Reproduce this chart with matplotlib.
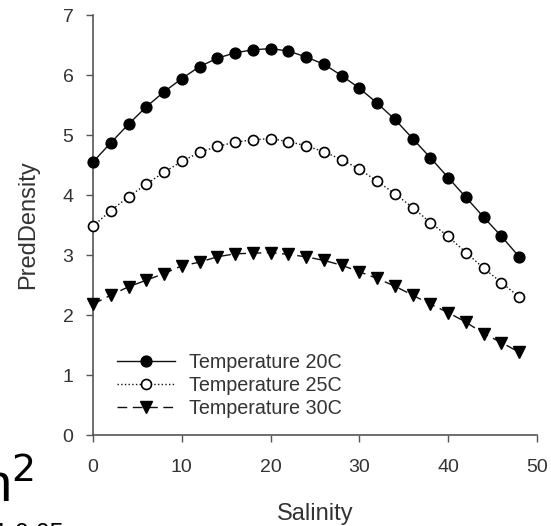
import matplotlib
matplotlib.use("Agg")
import matplotlib.pyplot as plt

plt.rcParams['font.family'] = ['Liberation Sans', 'DejaVu Sans']

salinity = [0, 2, 4, 6, 8, 10, 12, 14, 16, 18, 20, 22, 24, 26, 28, 30, 32, 34, 36, 38, 40, 42, 44, 46, 48]
temp20 = [4.55, 4.87, 5.18, 5.47, 5.72, 5.94, 6.14, 6.28, 6.37, 6.42, 6.44, 6.40, 6.30, 6.18, 5.99,
          5.78, 5.53, 5.26, 4.94, 4.62, 4.29, 3.96, 3.63, 3.31, 2.97]
temp25 = [3.48, 3.74, 3.97, 4.18, 4.38, 4.56, 4.71, 4.81, 4.88, 4.92, 4.94, 4.89, 4.82, 4.72, 4.59,
          4.43, 4.23, 4.02, 3.79, 3.54, 3.31, 3.04, 2.78, 2.54, 2.30]
temp30 = [2.18, 2.33, 2.47, 2.58, 2.69, 2.82, 2.88, 2.97, 3.02, 3.03, 3.04, 3.01, 2.97, 2.91, 2.83,
          2.72, 2.61, 2.48, 2.33, 2.18, 2.04, 1.88, 1.69, 1.54, 1.38]
labels = ["Temperature 20C", "Temperature 25C", "Temperature 30C"]
xticks = [0, 10, 20, 30, 40, 50]
yticks = [0, 1, 2, 3, 4, 5, 6, 7]

fig = plt.figure(figsize=(5.51, 5.26), dpi=100)
ax = fig.add_axes([93/551, 1-435/526, (537-93)/551, (435-15)/526])

txt = '#333333'
spine = '#555555'

ax.plot(salinity, temp20, color='#111111', lw=1.0, ls='-', marker='o', ms=7.8,
        mfc='black', mec='black', label=labels[0], clip_on=False, zorder=3)
ax.plot(salinity, temp25, color='#111111', lw=1.0, ls=':', marker='o', ms=7.2,
        mfc='white', mec='black', mew=1.2, label=labels[1], clip_on=False, zorder=3)
ax.plot(salinity, temp30, color='#111111', lw=1.0, ls=(0, (7, 4)), marker='v', ms=8.8,
        mfc='black', mec='black', label=labels[2], clip_on=False, zorder=3)

ax.set_xlim(0, 50)
ax.set_ylim(0, 7)
ax.set_xticks(xticks)
ax.set_yticks(yticks)
for s in ['top', 'right']:
    ax.spines[s].set_visible(False)
for s in ['left', 'bottom']:
    ax.spines[s].set_color(spine)
    ax.spines[s].set_linewidth(1.2)
ax.tick_params(direction='out', length=5, width=1.0, color=spine, labelsize=14,
               labelcolor=txt)
ax.tick_params(axis='x', pad=12)
ax.tick_params(axis='y', pad=9)

ax.set_xlabel("Salinity", fontsize=17, color=txt, labelpad=20)
ax.set_ylabel("PredDensity", fontsize=17, color=txt, labelpad=17)

leg = ax.legend(loc='lower left', bbox_to_anchor=(0.055, 0.04), frameon=False,
                fontsize=14.2, handlelength=2.9, handletextpad=0.75, labelspacing=0.22,
                borderpad=0, borderaxespad=0)
for t in leg.get_texts():
    t.set_color(txt)

fig.text(-0.035, 0.045, "n$^2$", fontsize=39, color='black', ha='left', va='baseline')
fig.text(-0.01, -0.028, "1 0.05", fontsize=18, color='black', ha='left', va='baseline')

fig.savefig("out.png", dpi=100)
